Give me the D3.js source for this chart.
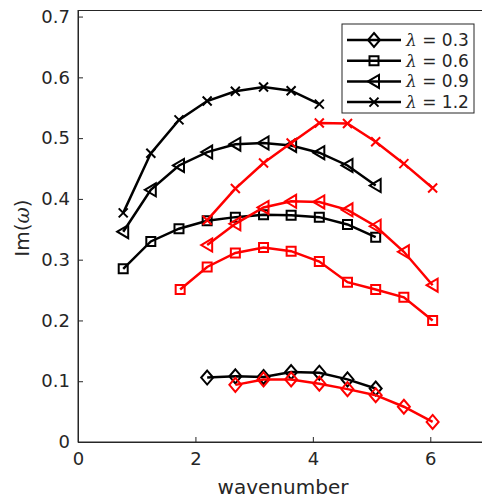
<!DOCTYPE html>
<html>
<head>
<meta charset="utf-8">
<script src="https://cdn.jsdelivr.net/npm/d3@7"></script>
<style>
  body { margin: 0; background: #fff; }
  text { font-family: "DejaVu Sans", sans-serif; fill: #262626; }
</style>
</head>
<body>
<div id="container"></div>
<script>
/* DATA */
const lambdas = ["0.3", "0.6", "0.9", "1.2"]
const markers = ["diamond", "square", "triLeft", "cross"]

// black runs
const blackX03 = [2.20, 2.68, 3.16, 3.63, 4.11, 4.59, 5.07]
const blackY03 = [0.106, 0.108, 0.107, 0.115, 0.114, 0.103, 0.088]
const blackX06 = [0.77, 1.24, 1.72, 2.20, 2.68, 3.16, 3.63, 4.11, 4.59, 5.07]
const blackY06 = [0.285, 0.330, 0.351, 0.364, 0.370, 0.374, 0.373, 0.370, 0.358, 0.337]
const blackX09 = [0.77, 1.24, 1.72, 2.20, 2.68, 3.16, 3.63, 4.11, 4.59, 5.07]
const blackY09 = [0.346, 0.415, 0.455, 0.477, 0.490, 0.492, 0.488, 0.476, 0.455, 0.422]
const blackX12 = [0.77, 1.24, 1.72, 2.20, 2.68, 3.16, 3.63, 4.11]
const blackY12 = [0.377, 0.475, 0.530, 0.561, 0.577, 0.584, 0.578, 0.556]

// red runs
const redX03 = [2.68, 3.16, 3.63, 4.11, 4.59, 5.07, 5.55, 6.04]
const redY03 = [0.094, 0.103, 0.103, 0.096, 0.087, 0.077, 0.058, 0.033]
const redX06 = [1.74, 2.20, 2.68, 3.16, 3.63, 4.11, 4.59, 5.07, 5.55, 6.04]
const redY06 = [0.251, 0.288, 0.311, 0.320, 0.314, 0.297, 0.263, 0.251, 0.238, 0.200]
const redX09 = [2.20, 2.68, 3.16, 3.63, 4.11, 4.59, 5.07, 5.55, 6.04]
const redY09 = [0.324, 0.359, 0.386, 0.396, 0.395, 0.382, 0.355, 0.313, 0.258]
const redX12 = [2.20, 2.68, 3.16, 3.63, 4.11, 4.59, 5.07, 5.55, 6.04]
const redY12 = [0.365, 0.417, 0.459, 0.492, 0.525, 0.524, 0.494, 0.458, 0.418]

const xTicks = [0, 2, 4, 6]
const yTicks = [0, 0.1, 0.2, 0.3, 0.4, 0.5, 0.6, 0.7]

/* CONSTANTS */
const width = 482, height = 499
const axisColor = "#262626"

const series = [
  { color: "black", marker: markers[0], xs: blackX03, ys: blackY03 },
  { color: "black", marker: markers[1], xs: blackX06, ys: blackY06 },
  { color: "black", marker: markers[2], xs: blackX09, ys: blackY09 },
  { color: "black", marker: markers[3], xs: blackX12, ys: blackY12 },
  { color: "red", marker: markers[0], xs: redX03, ys: redY03 },
  { color: "red", marker: markers[1], xs: redX06, ys: redY06 },
  { color: "red", marker: markers[2], xs: redX09, ys: redY09 },
  { color: "red", marker: markers[3], xs: redX12, ys: redY12 },
]

// marker shapes, centred at 0,0
function markerPath(type) {
  if (type === "diamond") return "M0,-7L6,0L0,7L-6,0Z"
  if (type === "square") return "M-4.5,-4.5H4.5V4.5H-4.5Z"
  if (type === "triLeft") return "M-6,0L5,-6.5L5,6.5Z"
  return "M-4.5,-4.5L4.5,4.5M-4.5,4.5L4.5,-4.5"
}

const svg = d3.select("#container")
  .append("svg")
  .attr("width", width)
  .attr("height", height)

const x = d3.scaleLinear().domain([0, 7]).range([78, 489])
const y = d3.scaleLinear().domain([0, 0.71]).range([442, 10.5])

// AXES BOX
svg.append("rect")
  .attr("x", x(0)).attr("y", y(0.71))
  .attr("width", x(7) - x(0)).attr("height", y(0) - y(0.71))
  .attr("fill", "none").attr("stroke", axisColor).attr("stroke-width", 1)

const xAxis = svg.append("g")
  .attr("transform", `translate(0,${y(0)})`)
  .call(d3.axisBottom(x).tickValues(xTicks).tickFormat(d3.format("d")).tickSizeInner(-5).tickSizeOuter(0).tickPadding(10))
const yAxis = svg.append("g")
  .attr("transform", `translate(${x(0)},0)`)
  .call(d3.axisLeft(y).tickValues(yTicks).tickFormat(d3.format("~g")).tickSizeInner(-5).tickSizeOuter(0).tickPadding(8))

;[xAxis, yAxis].forEach(g => {
  g.select(".domain").attr("stroke", axisColor)
  g.selectAll(".tick line").attr("stroke", axisColor)
  g.selectAll(".tick text")
    .attr("fill", axisColor)
    .style("font-size", "18px")
    .style("font-family", "DejaVu Sans, sans-serif")
})

// AXIS LABELS
svg.append("text")
  .attr("x", 283).attr("y", 494)
  .attr("text-anchor", "middle")
  .style("font-size", "20px")
  .text("wavenumber")

const ylab = svg.append("text")
  .attr("transform", "translate(29,228) rotate(-90)")
  .attr("text-anchor", "middle")
  .style("font-size", "20px")
ylab.append("tspan").text("Im(")
ylab.append("tspan").style("font-family", "DejaVu Serif, serif").style("font-style", "italic").text("ω")
ylab.append("tspan").text(")")

// SERIES
const line = d3.line().x(d => x(d[0])).y(d => y(d[1]))

series.forEach(s => {
  const pts = s.xs.map((v, i) => [v, s.ys[i]])
  const g = svg.append("g")
  g.append("path")
    .attr("d", line(pts))
    .attr("fill", "none")
    .attr("stroke", s.color)
    .attr("stroke-width", 2.5)
  g.selectAll("path.mk")
    .data(pts)
    .join("path")
    .attr("class", "mk")
    .attr("d", markerPath(s.marker))
    .attr("transform", d => `translate(${x(d[0])},${y(d[1])})`)
    .attr("fill", "none")
    .attr("stroke", s.color)
    .attr("stroke-width", 2)
})

// LEGEND
const legend = svg.append("g")
legend.append("rect")
  .attr("x", 342).attr("y", 24)
  .attr("width", 132).attr("height", 89)
  .attr("fill", "white").attr("stroke", axisColor).attr("stroke-width", 1)

lambdas.forEach((lam, i) => {
  const ly = 40 + i * 20.7
  legend.append("line")
    .attr("x1", 347).attr("x2", 401)
    .attr("y1", ly).attr("y2", ly)
    .attr("stroke", "black").attr("stroke-width", 2.5)
  legend.append("path")
    .attr("d", markerPath(markers[i]))
    .attr("transform", `translate(374,${ly})`)
    .attr("fill", "none").attr("stroke", "black").attr("stroke-width", 2)
  const t = legend.append("text")
    .attr("x", 406).attr("y", ly + 6)
    .style("font-size", "17px")
  t.append("tspan").style("font-family", "DejaVu Serif, serif").style("font-style", "italic").text("λ")
  t.append("tspan").text(" = " + lam)
})
</script>
</body>
</html>
